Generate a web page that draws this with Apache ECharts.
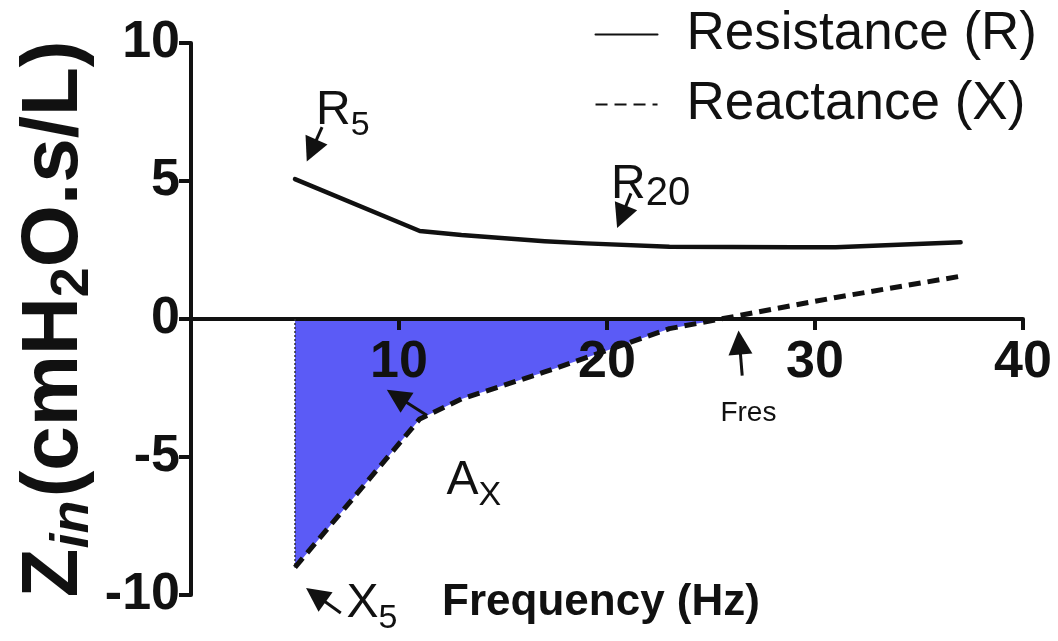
<!DOCTYPE html>
<html>
<head>
<meta charset="utf-8">
<script src="https://cdn.jsdelivr.net/npm/echarts@6/dist/echarts.min.js"></script>
<style>
  html, body { margin: 0; padding: 0; background: #fff; }
  #chart { width: 1058px; height: 641px; }
</style>
</head>
<body>
<div id="chart"></div>
<script>
// Oscillometry input impedance: resistance and reactance against frequency
const frequencies = [5, 11, 13, 17, 19, 23, 29, 31, 37];
const resistance  = [5.07, 3.19, 3.04, 2.82, 2.74, 2.62, 2.6, 2.6, 2.78];
const reactance   = [-9.0, -3.62, -2.9, -1.92, -1.4, -0.35, 0.5, 0.78, 1.55];
const resonantFrequency = 25.5;   // Fres, where reactance crosses zero

const xTickValues = [0, 10, 20, 30, 40];
const yTickValues = [-10, -5, 0, 5, 10];

const seriesNames = ['Resistance (R)', 'Reactance (X)'];

// Annotation texts (rich-text tags give the subscripts)
const noteTexts = ['{m|R}{s|5}', '{m|R}{s2|20}', '{f|Fres}', '{m|A}{s|X}', '{m|X}{s|5}'];
// Where each annotation text sits, in data units
const notePositions = [[7.3, 7.55], [22.1, 4.85], [26.8, -3.4], [13.6, -5.85], [8.7, -10.3]];
// Arrow shafts [from, to], in data units; the head is centred on "to"
const arrowPaths = [
  [[6.3, 6.95], [5.8, 6.1]],
  [[21.15, 4.55], [20.7, 3.7]],
  [[26.5, -2.05], [26.37, -0.85]],
  [[11.35, -3.5], [9.9, -2.8]],
  [[7.2, -10.65], [6.0, -10.0]]
];

const FONT = '"Liberation Sans", Arial, Helvetica, sans-serif';
const INK = '#111';
const FILL = '#5b5bf6';

const GRID = { left: 191, right: 35, top: 43, bottom: 46 };
const plotHeight = 641 - GRID.top - GRID.bottom;
const yMin = yTickValues[0];
const yMax = yTickValues[yTickValues.length - 1];
// Lift the frequency axis from the bottom edge up to the zero line
const zeroLineOffset = -plotHeight * (0 - yMin) / (yMax - yMin);

const pairs = (xs, ys) => xs.map((x, i) => [x, ys[i]]);
const reactancePairs = pairs(frequencies, reactance);
// Area under zero between the first frequency and the resonant frequency
const areaPairs = reactancePairs.filter(p => p[0] < resonantFrequency).concat([[resonantFrequency, 0]]);

const chart = echarts.init(document.getElementById('chart'), null, { renderer: 'canvas' });

chart.setOption({
  animation: false,
  backgroundColor: '#fff',
  textStyle: { fontFamily: FONT },
  grid: Object.assign({ containLabel: false, outerBoundsMode: 'none' }, GRID),
  legend: {
    data: seriesNames,
    orient: 'vertical',
    right: 16,
    top: 3,
    itemWidth: 62,
    itemHeight: 14,
    itemGap: 17,
    itemStyle: { opacity: 0 },
    textStyle: { fontFamily: FONT, fontSize: 53, color: INK, padding: [0, 0, 0, 24] },
    selectedMode: false
  },
  xAxis: {
    type: 'value',
    position: 'bottom',
    offset: zeroLineOffset,
    z: 4,
    min: xTickValues[0],
    max: xTickValues[xTickValues.length - 1],
    interval: xTickValues[1] - xTickValues[0],
    name: 'Frequency (Hz)',
    nameLocation: 'middle',
    nameGap: 262,
    nameTextStyle: { fontFamily: FONT, fontSize: 44, fontWeight: 'bold', color: INK, padding: [0, 12, 0, 0] },
    splitLine: { show: false },
    axisLine: { onZero: false, lineStyle: { color: INK, width: 4 } },
    axisTick: { show: true, length: 11, lineStyle: { color: INK, width: 4 } },
    axisLabel: {
      fontFamily: FONT, fontSize: 52, fontWeight: 'bold', color: INK, margin: 18,
      formatter: v => (v === 0 ? '' : String(v))
    }
  },
  yAxis: {
    type: 'value',
    z: 4,
    min: yMin,
    max: yMax,
    interval: yTickValues[1] - yTickValues[0],
    name: '{z|Z}{zs|in} {z|(cmH}{zs2|2}{z|O.s/L)}',
    nameLocation: 'middle',
    nameRotate: 90,
    nameGap: 96,
    nameMoveOverlap: false,
    nameTextStyle: {
      fontFamily: FONT, fontWeight: 'bold', color: INK,
      rich: {
        z:   { fontFamily: FONT, fontSize: 80, fontWeight: 'bold', color: INK, lineHeight: 80 },
        zs:  { fontFamily: FONT, fontSize: 54, fontWeight: 'bold', fontStyle: 'italic', color: INK, lineHeight: 54, padding: [36, 0, 0, 0] },
        zs2: { fontFamily: FONT, fontSize: 54, fontWeight: 'bold', color: INK, lineHeight: 54, padding: [36, 0, 0, 0] }
      }
    },
    splitLine: { show: false },
    axisLine: { onZero: false, lineStyle: { color: INK, width: 4 } },
    axisTick: { show: true, length: 12, lineStyle: { color: INK, width: 4 } },
    axisLabel: { fontFamily: FONT, fontSize: 52, fontWeight: 'bold', color: INK, margin: 11 }
  },
  series: [
    {
      name: 'area',
      type: 'line',
      data: areaPairs,
      symbol: 'none',
      silent: true,
      z: 1,
      lineStyle: { width: 0, opacity: 0 },
      areaStyle: { color: FILL, opacity: 1, origin: 0 },
      markLine: {
        silent: true,
        symbol: ['none', 'none'],
        label: { show: false },
        lineStyle: { color: '#333', width: 1.5, type: [2, 2] },
        data: [[{ coord: [frequencies[0], 0] }, { coord: [frequencies[0], reactance[0]] }]]
      }
    },
    {
      name: seriesNames[0],
      type: 'line',
      data: pairs(frequencies, resistance),
      symbol: 'none',
      z: 5,
      lineStyle: { color: INK, width: 4.5, cap: 'round', join: 'round' },
      itemStyle: { color: INK }
    },
    {
      name: seriesNames[1],
      type: 'line',
      data: reactancePairs,
      symbol: 'none',
      z: 5,
      lineStyle: { color: INK, width: 5, type: [12, 7], cap: 'butt', join: 'round' },
      itemStyle: { color: INK }
    },
    {
      name: 'notes',
      type: 'scatter',
      clip: false,
      silent: true,
      z: 6,
      symbolSize: 0,
      itemStyle: { color: INK, opacity: 1 },
      data: notePositions.map((p, i) => ({ value: p, label: { formatter: noteTexts[i] } })),
      label: {
        show: true,
        position: 'inside',
        color: INK,
        opacity: 1,
        textBorderWidth: 0,
        rich: {
          m:  { fontFamily: FONT, fontSize: 48, color: INK, lineHeight: 48 },
          s:  { fontFamily: FONT, fontSize: 34, color: INK, lineHeight: 34, padding: [30, 0, 0, 0] },
          s2: { fontFamily: FONT, fontSize: 40, color: INK, lineHeight: 40, padding: [18, 0, 0, 0] },
          f:  { fontFamily: FONT, fontSize: 28, color: INK, lineHeight: 30 }
        }
      }
    },
    {
      name: 'arrows',
      type: 'lines',
      coordinateSystem: 'cartesian2d',
      clip: false,
      silent: true,
      z: 6,
      polyline: false,
      symbol: ['none', 'triangle'],
      symbolSize: 24,
      lineStyle: { color: INK, width: 3, opacity: 1, curveness: 0 },
      itemStyle: { color: INK },
      data: arrowPaths.map(a => ({ coords: [a[0], a[1]] }))
    }
  ]
});
</script>
</body>
</html>
